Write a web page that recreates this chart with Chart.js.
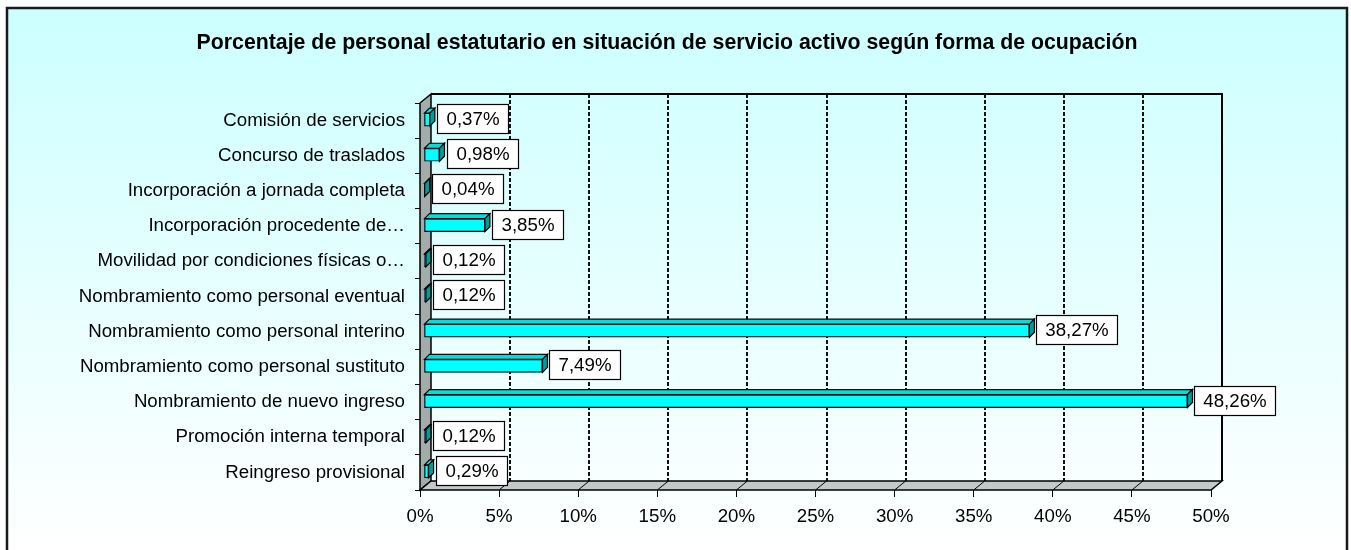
<!DOCTYPE html>
<html>
<head>
<meta charset="utf-8">
<script src="https://cdn.jsdelivr.net/npm/chart.js@4"></script>
<style>
  html, body { margin: 0; padding: 0; background: #fff; }
  canvas { display: block; }
</style>
</head>
<body>
<canvas id="chart" width="1351" height="550"></canvas>
<script>
const title = "Porcentaje de personal estatutario en situación de servicio activo según forma de ocupación";

const categories = [
    "Comisión de servicios",
    "Concurso de traslados",
    "Incorporación a jornada completa",
    "Incorporación procedente de…",
    "Movilidad por condiciones físicas o…",
    "Nombramiento como personal eventual",
    "Nombramiento como personal interino",
    "Nombramiento como personal sustituto",
    "Nombramiento de nuevo ingreso",
    "Promoción interna temporal",
    "Reingreso provisional"
];
const values = [0.37, 0.98, 0.04, 3.85, 0.12, 0.12, 38.27, 7.49, 48.26, 0.12, 0.29];

const xMin = 0, xMax = 50, xStep = 5;

const FONT = '"Liberation Sans", Arial, sans-serif';
const DX = 11, DY = 9;      // wall depth
const BD = 5;               // bar depth
const BX = 4, BY = -1;      // bar shift into the depth

const fmt = v => v.toFixed(2).replace('.', ',') + '%';

const frame3d = {
    id: 'frame3d',
    beforeDraw(chart) {
        const c = chart.ctx;
        c.save();
        const g = c.createLinearGradient(0, 8, 0, 550);
        g.addColorStop(0, '#ccffff');
        g.addColorStop(1, '#ffffff');
        c.fillStyle = g;
        c.fillRect(7, 8, 1340, 560);
        c.lineWidth = 2.5;
        c.strokeStyle = '#1a1a1a';
        c.strokeRect(7, 8, 1340, 560);

        c.fillStyle = '#000';
        c.font = 'bold 21.3px ' + FONT;
        c.textAlign = 'center';
        c.textBaseline = 'middle';
        c.fillText(title, 667, 43);
        c.restore();
    },
    beforeDatasetsDraw(chart) {
        const c = chart.ctx;
        const {left, right, top, bottom} = chart.chartArea;
        const x = chart.scales.x;
        c.save();
        c.strokeStyle = '#000';

        // back wall
        c.lineWidth = 2;
        c.beginPath();
        c.moveTo(left + DX, top - DY);
        c.lineTo(right + DX, top - DY);
        c.lineTo(right + DX, bottom - DY);
        c.stroke();

        // dashed gridlines on the back wall
        c.lineWidth = 2;
        c.strokeStyle = '#111';
        c.setLineDash([4, 2]);
        for (let v = xMin + xStep; v < xMax; v += xStep) {
            const px = Math.round(x.getPixelForValue(v)) + DX;
            c.beginPath();
            c.moveTo(px, top - DY);
            c.lineTo(px, bottom - DY);
            c.stroke();
        }
        c.setLineDash([]);
        c.strokeStyle = '#000';

        // left wall
        c.lineWidth = 1.5;
        c.fillStyle = '#a3abab';
        c.beginPath();
        c.moveTo(left, top);
        c.lineTo(left + DX, top - DY);
        c.lineTo(left + DX, bottom - DY);
        c.lineTo(left, bottom);
        c.closePath();
        c.fill();
        c.stroke();

        // floor
        c.fillStyle = '#c3c8c8';
        c.beginPath();
        c.moveTo(left, bottom);
        c.lineTo(right, bottom);
        c.lineTo(right + DX, bottom - DY);
        c.lineTo(left + DX, bottom - DY);
        c.closePath();
        c.fill();
        c.stroke();
        c.lineWidth = 1;
        for (let v = xMin + xStep; v < xMax; v += xStep) {
            const px = x.getPixelForValue(v);
            c.beginPath();
            c.moveTo(px, bottom);
            c.lineTo(px + DX, bottom - DY);
            c.stroke();
        }
        c.restore();

        c.save();
        c.translate(BX, BY);
    },
    afterDatasetsDraw(chart) {
        const c = chart.ctx;
        const bars = chart.getDatasetMeta(0).data;
        c.lineWidth = 1.2;
        c.strokeStyle = '#000';
        bars.forEach(b => {
            const t = b.y - b.height / 2, btm = b.y + b.height / 2;
            // top face
            c.fillStyle = '#00dede';
            c.beginPath();
            c.moveTo(b.base, t);
            c.lineTo(b.base + BD, t - BD);
            c.lineTo(b.x + BD, t - BD);
            c.lineTo(b.x, t);
            c.closePath();
            c.fill();
            c.stroke();
            // side face
            c.fillStyle = '#009c9c';
            c.beginPath();
            c.moveTo(b.x, t);
            c.lineTo(b.x + BD, t - BD);
            c.lineTo(b.x + BD, btm - BD);
            c.lineTo(b.x, btm);
            c.closePath();
            c.fill();
            c.stroke();
        });
        c.restore();

        // value boxes
        c.save();
        c.font = '18.7px ' + FONT;
        c.textAlign = 'center';
        c.textBaseline = 'middle';
        bars.forEach((b, i) => {
            const txt = fmt(values[i]);
            const w = Math.round(c.measureText(txt).width + 18);
            const h = 29;
            const bx = Math.round(b.x + 11) + 0.5;
            const by = Math.round(b.y - 2 - h / 2) + 0.5;
            c.fillStyle = '#fff';
            c.fillRect(bx, by, w, h);
            c.strokeStyle = '#000';
            c.lineWidth = 1.2;
            c.strokeRect(bx, by, w, h);
            c.fillStyle = '#000';
            c.fillText(txt, bx + w / 2, by + h / 2 + 1);
        });
        c.restore();
    }
};

Chart.defaults.font.family = FONT;
Chart.defaults.color = '#000';

new Chart(document.getElementById('chart'), {
    type: 'bar',
    data: {
        labels: categories,
        datasets: [{
            data: values,
            backgroundColor: '#00ffff',
            borderColor: '#000',
            borderWidth: 1.2,
            borderSkipped: false,
            barThickness: 13
        }]
    },
    options: {
        indexAxis: 'y',
        responsive: false,
        animation: false,
        layout: {padding: {top: 103, right: 140, bottom: 0, left: 0}},
        plugins: {
            legend: {display: false},
            tooltip: {enabled: false},
            title: {display: false}
        },
        scales: {
            x: {
                min: xMin,
                max: xMax,
                ticks: {
                    stepSize: xStep,
                    callback: v => v + '%',
                    font: {size: 18.7},
                    padding: 9,
                    maxRotation: 0,
                    autoSkip: false
                },
                grid: {drawOnChartArea: false, tickLength: 7, color: '#000', lineWidth: 1},
                border: {display: false},
                afterFit: s => { s.height = 60; }
            },
            y: {
                ticks: {font: {size: 18.7}, padding: 10, autoSkip: false},
                grid: {offset: true, drawOnChartArea: false, tickLength: 5, color: '#000', lineWidth: 1},
                border: {display: false},
                afterFit: s => { s.width = 420; }
            }
        }
    },
    plugins: [frame3d]
});
</script>
</body>
</html>
